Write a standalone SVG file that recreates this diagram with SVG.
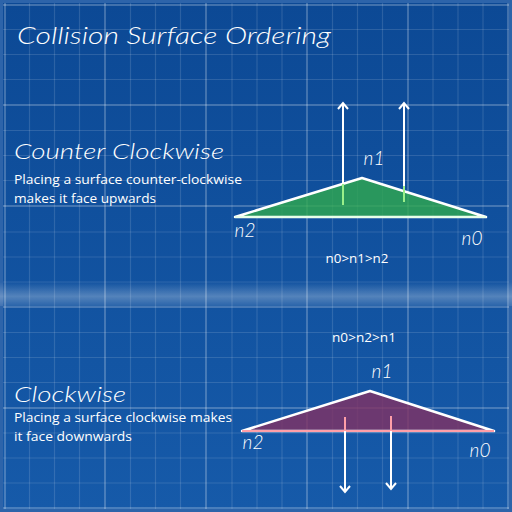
<svg xmlns="http://www.w3.org/2000/svg" width="512" height="512" viewBox="0 0 512 512">
<defs>
<linearGradient id="bg" x1="0" y1="0" x2="0" y2="1">
<stop offset="0" stop-color="#0c4995"/>
<stop offset="1" stop-color="#165aa9"/>
</linearGradient>
<linearGradient id="band" x1="0" y1="0" x2="0" y2="1">
<stop offset="0" stop-color="#ffffff" stop-opacity="0"/>
<stop offset="0.6" stop-color="#ffffff" stop-opacity="0.28"/>
<stop offset="1" stop-color="#ffffff" stop-opacity="0.1"/>
</linearGradient>
<marker id="head" viewBox="-8 -7 10 14" refX="0" refY="0" markerWidth="10" markerHeight="14" markerUnits="userSpaceOnUse" orient="auto">
<path d="M-6,-5 L0,0 L-6,5" fill="none" stroke="#ffffff" stroke-width="2" stroke-linejoin="miter"/>
</marker>
</defs>
<style>
.minor{stroke:#ffffff;stroke-opacity:0.13;stroke-width:1.2}
.major{stroke:#ffffff;stroke-opacity:0.22;stroke-width:2}
.hand{font-family:"Lato","DejaVu Sans",sans-serif;font-style:italic;font-weight:300;fill:#ffffff}
.body{font-family:"Open Sans","Liberation Sans",sans-serif;fill:#ffffff;font-size:13.5px}
.arrow{stroke:#ffffff;stroke-width:2;fill:none}
</style>
<rect x="0" y="0" width="512" height="512" fill="#2d64aa"/>
<rect x="3" y="3" width="506" height="506" fill="url(#bg)"/>
<rect x="0" y="282" width="512" height="24" fill="url(#band)"/>
<g id="grid">
<g class="minor">
<line x1="29.5" y1="3" x2="29.5" y2="509"/><line x1="54.5" y1="3" x2="54.5" y2="509"/><line x1="79.5" y1="3" x2="79.5" y2="509"/>
<line x1="130.5" y1="3" x2="130.5" y2="509"/><line x1="155.5" y1="3" x2="155.5" y2="509"/><line x1="180.5" y1="3" x2="180.5" y2="509"/>
<line x1="232" y1="3" x2="232" y2="509"/><line x1="257" y1="3" x2="257" y2="509"/><line x1="282" y1="3" x2="282" y2="509"/>
<line x1="332.5" y1="3" x2="332.5" y2="509"/><line x1="357.5" y1="3" x2="357.5" y2="509"/><line x1="382.5" y1="3" x2="382.5" y2="509"/>
<line x1="433" y1="3" x2="433" y2="509"/><line x1="458" y1="3" x2="458" y2="509"/><line x1="483" y1="3" x2="483" y2="509"/>
<line x1="3" y1="29.5" x2="509" y2="29.5"/><line x1="3" y1="54.5" x2="509" y2="54.5"/><line x1="3" y1="79.5" x2="509" y2="79.5"/>
<line x1="3" y1="130.5" x2="509" y2="130.5"/><line x1="3" y1="155.5" x2="509" y2="155.5"/><line x1="3" y1="180.5" x2="509" y2="180.5"/>
<line x1="3" y1="232" x2="509" y2="232"/><line x1="3" y1="257" x2="509" y2="257"/><line x1="3" y1="282" x2="509" y2="282"/>
<line x1="3" y1="332.5" x2="509" y2="332.5"/><line x1="3" y1="357.5" x2="509" y2="357.5"/><line x1="3" y1="382.5" x2="509" y2="382.5"/>
<line x1="3" y1="433" x2="509" y2="433"/><line x1="3" y1="458" x2="509" y2="458"/><line x1="3" y1="483" x2="509" y2="483"/>
</g>
<g class="major">
<line x1="5" y1="3" x2="5" y2="509"/><line x1="105" y1="3" x2="105" y2="509"/><line x1="206" y1="3" x2="206" y2="509"/><line x1="307" y1="3" x2="307" y2="509"/><line x1="408" y1="3" x2="408" y2="509"/><line x1="508" y1="3" x2="508" y2="509"/>
<line x1="3" y1="5" x2="509" y2="5"/><line x1="3" y1="105" x2="509" y2="105"/><line x1="3" y1="206" x2="509" y2="206"/><line x1="3" y1="307" x2="509" y2="307"/><line x1="3" y1="408" x2="509" y2="408"/><line x1="3" y1="508" x2="509" y2="508"/>
</g>
</g>
<text class="hand" x="17" y="44" font-size="23" textLength="314" lengthAdjust="spacingAndGlyphs">Collision Surface Ordering</text>
<g id="ccw-section">
<text class="hand" x="14" y="159" font-size="22" textLength="210" lengthAdjust="spacingAndGlyphs">Counter Clockwise</text>
<text class="body" x="14" y="184" textLength="228" lengthAdjust="spacingAndGlyphs">Placing a surface counter-clockwise</text>
<text class="body" x="14" y="203" textLength="142" lengthAdjust="spacingAndGlyphs">makes it face upwards</text>
</g>
<g id="ccw-triangle">
<polygon points="235,217 362,178 486,217" fill="#2fa94d" fill-opacity="0.8" stroke="#ffffff" stroke-width="2.5" stroke-linejoin="round"/>
<line x1="235" y1="217" x2="486" y2="217" stroke="#e8ffe8" stroke-width="2"/>
<text class="hand" x="374" y="165" font-size="19" text-anchor="middle">n1</text>
<text class="hand" x="245" y="237" font-size="19" text-anchor="middle">n2</text>
<text class="hand" x="472" y="245" font-size="19" text-anchor="middle">n0</text>
<text class="body" x="357" y="263" font-size="12.5" text-anchor="middle" textLength="63" lengthAdjust="spacingAndGlyphs">n0&gt;n1&gt;n2</text>
</g>
<g id="cw-section">
<text class="hand" x="14" y="402" font-size="21" textLength="112" lengthAdjust="spacingAndGlyphs">Clockwise</text>
<text class="body" x="14" y="422" textLength="218" lengthAdjust="spacingAndGlyphs">Placing a surface clockwise makes</text>
<text class="body" x="14" y="441" textLength="118" lengthAdjust="spacingAndGlyphs">it face downwards</text>
</g>
<g id="cw-triangle">
<polygon points="242,431 370,391 494,431" fill="#803264" fill-opacity="0.82" stroke="#ffffff" stroke-width="2.5" stroke-linejoin="round"/>
<line x1="242" y1="431" x2="494" y2="431" stroke="#ff9fa8" stroke-width="2"/>
<text class="hand" x="382" y="378" font-size="19" text-anchor="middle">n1</text>
<text class="hand" x="253" y="449" font-size="19" text-anchor="middle">n2</text>
<text class="hand" x="480" y="457" font-size="19" text-anchor="middle">n0</text>
<text class="body" x="364" y="342" font-size="12.5" text-anchor="middle" textLength="64" lengthAdjust="spacingAndGlyphs">n0&gt;n2&gt;n1</text>
</g>
<g id="connectors">
<line class="arrow" x1="343" y1="205" x2="343" y2="103" marker-end="url(#head)"/>
<line x1="343" y1="205" x2="343" y2="184" stroke="#9af08a" stroke-width="2"/>
<line class="arrow" x1="404" y1="202" x2="404" y2="103" marker-end="url(#head)"/>
<line x1="404" y1="202" x2="404" y2="186" stroke="#9af08a" stroke-width="2"/>
<line class="arrow" x1="345" y1="417" x2="345" y2="492" marker-end="url(#head)"/>
<line x1="345" y1="417" x2="345" y2="431" stroke="#ff9fa8" stroke-width="2"/>
<line class="arrow" x1="391" y1="416" x2="391" y2="489" marker-end="url(#head)"/>
<line x1="391" y1="416" x2="391" y2="431" stroke="#ff9fa8" stroke-width="2"/>
</g>
</svg>
